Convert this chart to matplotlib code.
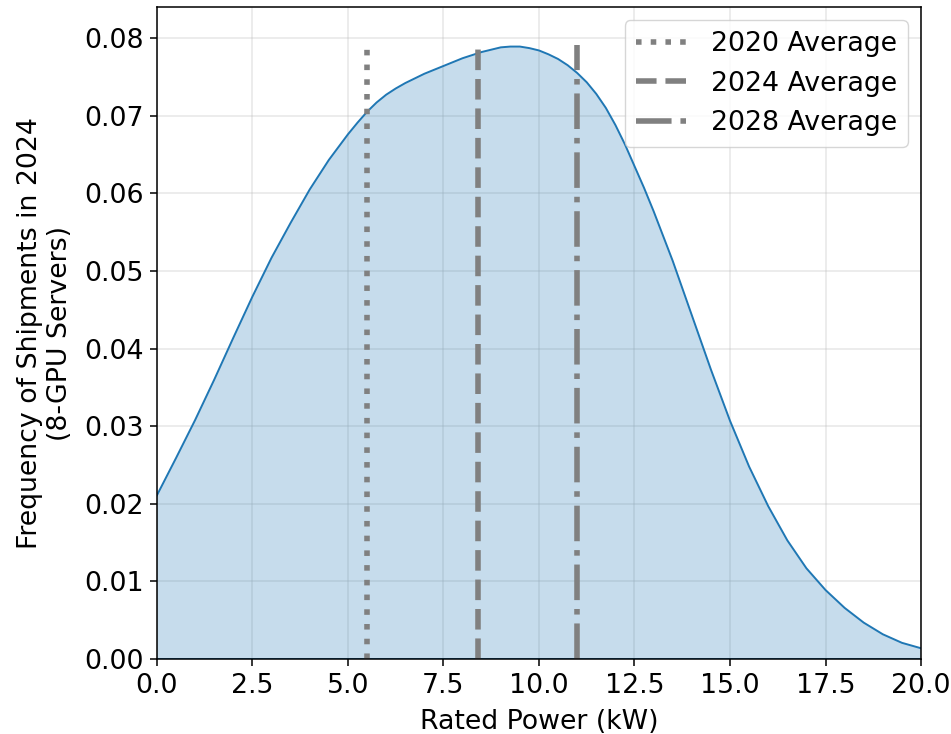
import matplotlib
matplotlib.use("Agg")
import matplotlib.pyplot as plt
import numpy as np

power_kw = [0.0, 0.5, 1.0, 1.5, 2.0, 2.5, 3.0, 3.5, 4.0, 4.5, 5.0, 5.25, 5.5,
            5.75, 6.0, 6.25, 6.5, 6.75, 7.0, 7.5, 8.0, 8.5, 8.75, 9.0, 9.25,
            9.5, 9.75, 10.0, 10.25, 10.5, 10.75, 11.0, 11.25, 11.5, 11.75,
            12.0, 12.25, 12.5, 12.75, 13.0, 13.5, 14.0, 14.5, 15.0, 15.5, 16.0,
            16.5, 17.0, 17.5, 18.0, 18.5, 19.0, 19.5, 20.0]
frequency = [0.0211, 0.0259, 0.0308, 0.0360, 0.0414, 0.0467, 0.0517, 0.0562,
             0.0605, 0.0643, 0.0676, 0.0691, 0.0705, 0.0717, 0.0727, 0.0735,
             0.0742, 0.0748, 0.0754, 0.0764, 0.0774, 0.0782, 0.0785, 0.0788,
             0.0789, 0.0789, 0.0787, 0.0784, 0.0779, 0.0773, 0.0765, 0.0755,
             0.0743, 0.0728, 0.0710, 0.0688, 0.0663, 0.0635, 0.0607, 0.0577,
             0.0513, 0.0443, 0.0373, 0.0307, 0.0248, 0.0197, 0.0153, 0.0117,
             0.0089, 0.0066, 0.0047, 0.0032, 0.0021, 0.0014]

avg_labels = ["2020 Average", "2024 Average", "2028 Average"]
avg_values = [5.5, 8.4, 11.0]
avg_styles = [":", "--", "-."]

s = 1.38
plt.rcParams["font.family"] = ["DejaVu Sans"]
plt.rcParams["font.size"] = 19.3
plt.rcParams["axes.linewidth"] = 0.8 * s
plt.rcParams["xtick.major.size"] = 3.5 * s
plt.rcParams["ytick.major.size"] = 3.5 * s
plt.rcParams["xtick.major.width"] = 0.8 * s
plt.rcParams["ytick.major.width"] = 0.8 * s
plt.rcParams["xtick.major.pad"] = 3.5 * s
plt.rcParams["ytick.major.pad"] = 3.5 * s
plt.rcParams["axes.labelpad"] = 4.0 * s + 2
plt.rcParams["grid.linewidth"] = 0.8 * s

fig = plt.figure(figsize=(9.51, 7.34), dpi=100)
ax = fig.add_axes([0.165, 0.102, 0.8035, 0.8885])

ax.fill_between(power_kw, frequency, 0, facecolor="#1f77b4", alpha=0.25,
                edgecolor="none")
ax.plot(power_kw, frequency, color="#1f77b4", lw=1.4)
ax.axhline(0, color="#1f77b4", lw=1.4)

top = 0.0791
for lab, v, ls in zip(avg_labels, avg_values, avg_styles):
    ax.vlines(v, 0, top, colors="gray", linestyles=ls, lw=4, label=lab)

ax.set_xlim(0, 20)
ax.set_ylim(0, 0.084)
ax.set_xticks(np.arange(0, 20.01, 2.5))
ax.set_yticks(np.arange(0, 0.0801, 0.01))
ax.grid(True, alpha=0.3)
ax.set_axisbelow(True)
ax.set_xlabel("Rated Power (kW)")
ax.set_ylabel("Frequency of Shipments in 2024\n(8-GPU Servers)")
ax.legend(loc="upper right")

fig.savefig("out.png", dpi=100)
